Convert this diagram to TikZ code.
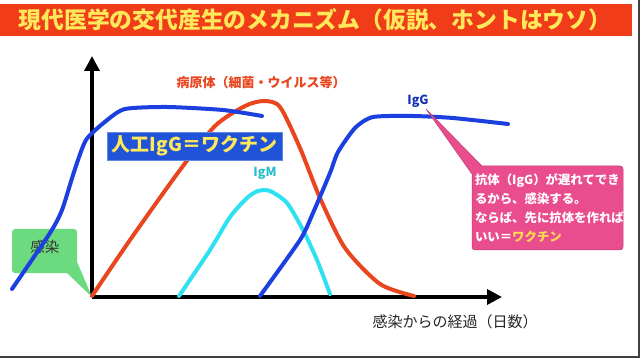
\documentclass[tikz,border=0pt]{standalone}
\usepackage{fontspec}
\setmainfont{Noto Sans CJK JP}
\usepackage{tikz}
\usetikzlibrary{arrows.meta}

\definecolor{titlered}{HTML}{F03C18}
\definecolor{titleyellow}{HTML}{FFE85A}
\definecolor{pathored}{HTML}{E9461F}
\definecolor{iggblue}{HTML}{1C3FE0}
\definecolor{igmcyan}{HTML}{2EE0F0}
\definecolor{boxblue}{HTML}{2153D8}
\definecolor{notepink}{HTML}{EA4D8E}
\definecolor{notegreen}{HTML}{6CDB7F}

\begin{document}
\begin{tikzpicture}[x=1pt, y=-1pt,
  curve/.style = {line width=4pt, line join=round, line cap=round},
  axis/.style = {line width=3.5pt, -{Triangle[length=15pt, width=15pt]}},
  jp/.style = {inner sep=0pt}]

\useasboundingbox (0,0) rectangle (640,358);
\fill[white] (0,0) rectangle (640,358);
\draw[black!75, line width=1.2pt] (639,0) -- (639,357) -- (0,357);

% title
\fill[titlered] (0,4) rectangle (632,36);
\node[jp, text=titleyellow, font=\fontsize{22.8}{24}\selectfont\bfseries] (title) at (315,20) {現代医学の交代産生のメカニズム（仮説、ホントはウソ）};

% axes
\coordinate (O) at (92,297);
\coordinate (ytop) at (92,56);
\coordinate (xend) at (502,297);
\draw[axis] (O) -- (ytop);
\draw[axis] (O) -- (xend);
\node[jp, font=\fontsize{15}{16}\selectfont, text=black!85] (xlabel) at (455,322) {感染からの経過（日数）};

% infection callout
\node[fill=notegreen, rounded corners=3pt, minimum width=65pt, minimum height=44pt, inner sep=0pt] (infect) at (44.5,251) {};
\fill[notegreen] ([xshift=-10pt]infect.south east) -- (O) -- ([yshift=11pt]infect.south east) -- cycle;
\node[jp, font=\fontsize{14.5}{16}\selectfont, text=black!80] (infecttext) at (45,247) {感染};

% pathogen
\draw[curve, pathored] plot[smooth, tension=0.45] coordinates {(92,296) (130,240) (180,170) (215,126) (245,106) (264,101) (280,107) (300,148) (320,198) (345,248) (380,284) (414,296)};
\node[jp, text=pathored, font=\fontsize{13}{15}\selectfont\bfseries] (patholabel) at (261,83) {病原体（細菌・ウイルス等）};

% IgG by vaccine
\draw[curve, iggblue] plot[smooth, tension=0.4] coordinates {(12,289) (50,233) (62,210) (74,172) (86,140) (106,121) (125,109) (167,107) (223,110) (262,116)};

% IgM
\draw[curve, igmcyan] plot[smooth, tension=0.45] coordinates {(179,296) (210,250) (230,217) (247,198) (258,191) (270,191) (287,203) (303,230) (317,260) (330,294)};
\node[jp, text=igmcyan!85!black, font=\fontsize{12.5}{14}\selectfont\bfseries] (igmlabel) at (265,173) {IgM};

% IgG
\draw[curve, iggblue] plot[smooth, tension=0.4] coordinates {(260,296) (300,240) (313,213) (330,173) (338,152) (355,128) (373,117) (413,116) (453,118) (508,124)};
\node[jp, text=iggblue!80!black, font=\fontsize{12.5}{14}\selectfont\bfseries] (igglabel) at (418,101) {IgG};

% vaccine box
\node[fill=boxblue, draw=boxblue!70!white, line width=0.6pt, minimum width=175pt, minimum height=28pt, inner sep=0pt,
      text=titleyellow, font=\fontsize{19}{21}\selectfont\bfseries] (vaccine) at (194.5,146) {人工IgG＝ワクチン};

% note
\coordinate (iggtip) at (426,109);
\node[fill=notepink, draw=notepink!80!black, line width=0.5pt, rounded corners=3pt, minimum width=151pt, minimum height=84pt,
      text width=145pt, inner xsep=3pt, inner ysep=0pt, align=left, text=white,
      font=\fontsize{12.4}{18.7}\selectfont\bfseries] (note) at (547.5,208)
  {抗体（IgG）が遅れてでき\\るから、感染する。\\ならば、先に抗体を作れば\\いい＝\textcolor{titleyellow!90!orange}{ワクチン}};
\fill[notepink] (iggtip) -- ([yshift=-8pt]note.north west) -- ([xshift=10pt]note.north west) -- cycle;
\draw[notepink!80!black, line width=0.5pt] ([yshift=-8pt]note.north west) -- (iggtip) -- ([xshift=10pt]note.north west);

\end{tikzpicture}
\end{document}
